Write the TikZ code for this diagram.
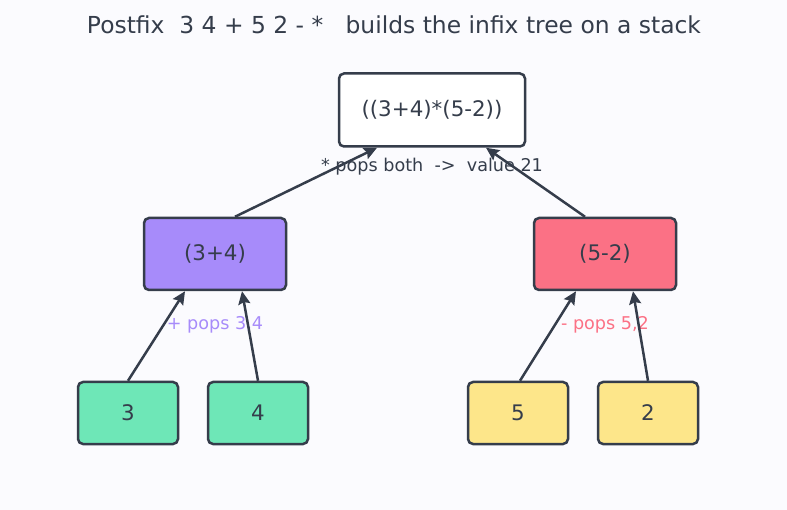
\documentclass[tikz,border=0pt]{standalone}
\usepackage{fontspec}
\setmainfont{DejaVu Sans}
\usetikzlibrary{arrows.meta}
\definecolor{inkx}{HTML}{353D4B}
\definecolor{pagebg}{HTML}{FBFBFE}
\definecolor{violetx}{HTML}{A78BFA}
\definecolor{rosex}{HTML}{FB7185}
\definecolor{mintx}{HTML}{6EE7B7}
\definecolor{sandx}{HTML}{FDE68A}
\tikzset{
  ar/.style={-{Stealth[length=13pt,width=12pt,inset=2pt]},line width=2.5pt,inkx},
  box/.style={draw=inkx,line width=2.5pt,rounded corners=5pt,inner sep=0pt,align=center,text=inkx,font=\fontsize{21.4}{25}\selectfont},
  root/.style={box,fill=white,minimum width=186pt,minimum height=73pt},
  mid/.style={box,minimum width=142pt,minimum height=72pt},
  leaf/.style={box,minimum width=100pt,minimum height=62pt},
  lab/.style={font=\fontsize{17.6}{21}\selectfont}
}
\begin{document}
\begin{tikzpicture}[x=1pt,y=-1pt]
\fill[pagebg] (0,0) rectangle (787,510);
\useasboundingbox (0,0) rectangle (787,510);
\node[inkx,font=\fontsize{23.4}{27}\selectfont] (title) at (394,25) {Postfix\ \ 3 4 + 5 2 - *\ \ \ builds the infix tree on a stack};
% tree
\node[root] (whole) at (432,110) {((3+4)*(5-2))};
\node[mid,fill=violetx] (sum) at (215,254) {(3+4)};
\node[mid,fill=rosex] (diff) at (605,254) {(5-2)};
\node[leaf,fill=mintx] (n3) at (128,413) {3};
\node[leaf,fill=mintx] (n4) at (258,413) {4};
\node[leaf,fill=sandx] (n5) at (518,413) {5};
\node[leaf,fill=sandx] (n2) at (648,413) {2};
% stack notes
\node[lab,inkx] (popall) at (432,167) {* pops both\ \ ->\ \ value 21};
\node[lab,violetx] (popsum) at (215,325) {+ pops 3,4};
\node[lab,rosex] (popdiff) at (605,325) {- pops 5,2};
\draw[ar] (n3.north) -- ([xshift=-30pt]sum.south);
\draw[ar] (n4.north) -- ([xshift=27pt]sum.south);
\draw[ar] ([xshift=2pt]n5.north) -- ([xshift=-29pt]diff.south);
\draw[ar] (n2.north) -- ([xshift=28pt]diff.south);
\draw[ar] ([xshift=20pt]sum.north) -- ([xshift=-55pt]whole.south);
\draw[ar] ([xshift=-20pt]diff.north) -- ([xshift=54pt]whole.south);
\end{tikzpicture}
\end{document}
